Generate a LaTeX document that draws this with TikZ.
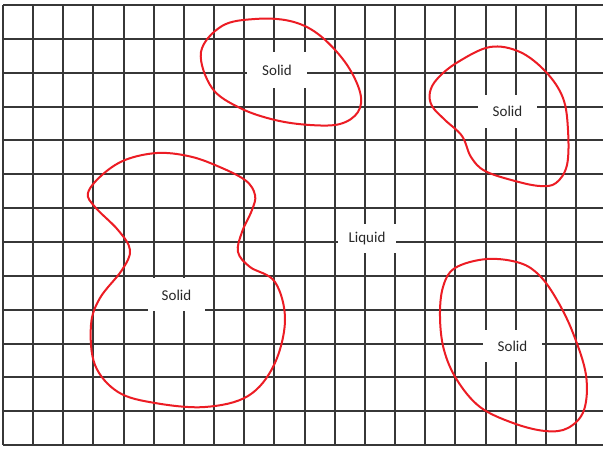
\documentclass[tikz,border=0pt]{standalone}
\usepackage{fontspec}
\setmainfont{Carlito}
\definecolor{blobred}{RGB}{236,28,36}
\definecolor{gridc}{RGB}{55,55,55}
\definecolor{labc}{RGB}{40,40,40}
\begin{document}
\begin{tikzpicture}[x=1pt,y=-1pt,
  gridline/.style={draw=gridc,line width=2pt},
  labelbox/.style={fill=white,draw=none,inner sep=0pt,text=labc,font=\fontsize{15}{17}\selectfont},
  blob/.style={draw=blobred,line width=2pt,smooth cycle,tension=0.6}]
\useasboundingbox (0,0) rectangle (603,449);
\fill[white] (0,0) rectangle (603,449);
% grid
\foreach \k in {0,...,19} {
  \draw[gridline] ({round(3+30.16*\k)},5) -- ({round(3+30.16*\k)},445);
}
\foreach \j in {0,...,13} {
  \draw[gridline] (3,{round(5+33.85*\j)}) -- (603,{round(5+33.85*\j)});
}
% labels
\node[labelbox,minimum width=60pt,minimum height=36pt] (s1) at (277,70) {Solid};
\node[labelbox,minimum width=59pt,minimum height=33pt] (s2) at (507.5,111.5) {Solid};
\node[labelbox,minimum width=58pt,minimum height=29pt] (liq) at (367,239) {Liquid};
\node[labelbox,minimum width=59pt,minimum height=32pt] (s3) at (512.5,346) {Solid};
\node[labelbox,minimum width=57pt,minimum height=33pt] (s4) at (176.5,295) {Solid};
% blobs
\draw[blob] plot coordinates {(201,52) (222,26) (255,19) (290,21) (318,34) (345,62) (360,92) (358,112) (340,124) (310,125) (275,120) (240,108) (212,88)};
\draw[blob] plot coordinates {(490,47) (520,52) (546,72) (563,98) (568,130) (567,165) (556,183) (540,186) (515,181) (485,171) (471,157) (462,136) (445,120) (432,106) (430,92) (438,78) (458,62)};
\draw[blob] plot coordinates {(157,153) (188,156) (215,165) (245,180) (255,195) (252,210) (242,232) (238,252) (250,267) (275,282) (285,320) (274,365) (248,396) (205,407) (155,403) (118,392) (95,365) (91,325) (100,298) (122,270) (130,250) (118,230) (95,207) (88,193) (102,175) (125,160)};
\draw[blob] plot coordinates {(487,259) (520,263) (540,276) (557,300) (573,333) (586,375) (584,410) (568,428) (545,431) (513,423) (480,407) (457,380) (444,350) (440,317) (443,287) (455,268)};
\end{tikzpicture}
\end{document}
